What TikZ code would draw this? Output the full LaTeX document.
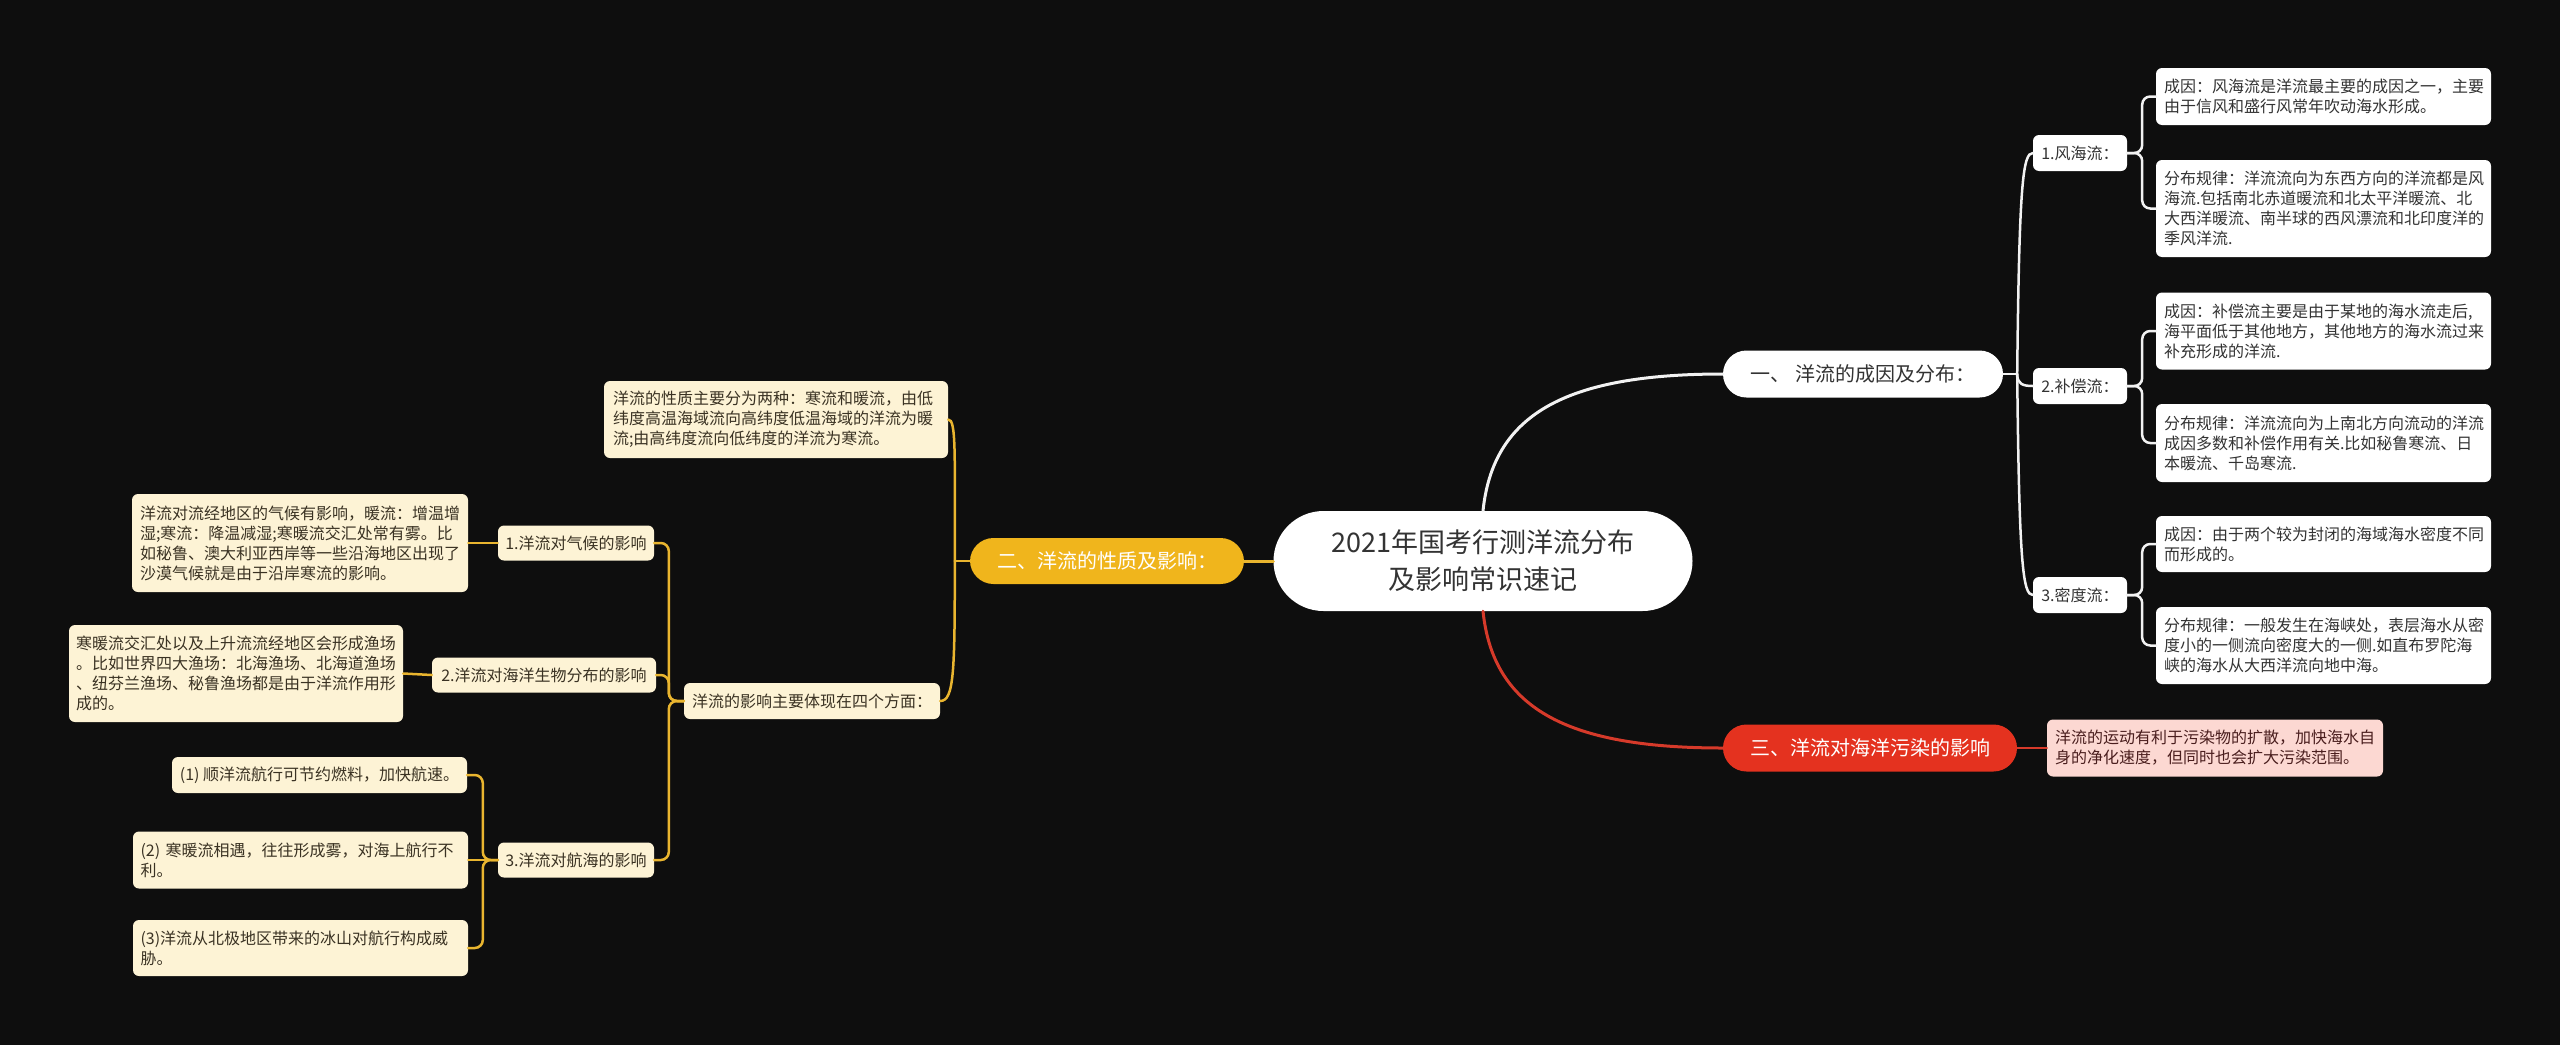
\documentclass[tikz,border=0pt]{standalone}
\usepackage{fontspec}
\newfontfamily\cjk{Noto Sans CJK SC}
\definecolor{bgc}{HTML}{0E0E0E}
\definecolor{cream}{HTML}{FDF3D5}
\definecolor{ctext}{HTML}{3A3223}
\definecolor{yfill}{HTML}{F0B51C}
\definecolor{yline}{HTML}{E9B52F}
\definecolor{wtext}{HTML}{333333}
\definecolor{redfill}{HTML}{E4321F}
\definecolor{rline}{HTML}{D63A2A}
\definecolor{pinkfill}{HTML}{FCD8D2}
\definecolor{ptext}{HTML}{4A1E1E}
\definecolor{wline}{HTML}{F2F2F2}
\begin{document}
\begin{tikzpicture}[x=1pt,y=-1pt,
  base/.style={inner sep=0pt, font=\cjk\fontsize{16}{20}\selectfont},
  wbox/.style={base, fill=white, text=wtext, rounded corners=6pt},
  cbox/.style={base, fill=cream, text=ctext, rounded corners=6pt},
  leafR/.style={wbox, minimum width=335pt, text width=319pt, align=left},
  subR/.style={wbox, minimum width=94pt, minimum height=36pt},
  pill/.style={base, font=\cjk\fontsize{20}{24}\selectfont, minimum height=47pt, rounded corners=23.5pt},
  wl/.style={draw=wline, line width=3pt, line cap=round},
  wl2/.style={draw=wline, line width=2.5pt, line cap=round},
  yl/.style={draw=yline, line width=2.5pt, line cap=round},
  rl/.style={draw=rline, line width=3pt, line cap=round}]
\useasboundingbox (0,0) rectangle (2560,1045);
\fill[bgc] (0,0) rectangle (2560,1045);

% central
\node[wbox, rounded corners=50pt, minimum width=419pt, minimum height=100pt,
  font=\cjk\fontsize{27}{37}\selectfont, align=center, text=wtext] (center) at (1483,561)
  {2021年国考行测洋流分布\\及影响常识速记};

% branches
\node[pill, fill=white, text=wtext, minimum width=280pt] (br1) at (1863,374) {一、 洋流的成因及分布：};
\node[pill, fill=redfill, text=white, minimum width=294pt] (br3) at (1870,748) {三、洋流对海洋污染的影响};
\node[pill, fill=yfill, text=white, minimum width=274pt, minimum height=46pt] (br2) at (1107,561) {二、洋流的性质及影响：};

% right side
\node[subR] (s1) at (2080,153) {1.风海流：};
\node[subR] (s2) at (2080,386) {2.补偿流：};
\node[subR] (s3) at (2080,595) {3.密度流：};

\node[leafR, minimum height=57pt] (l1a) at (2323.5,96.5) {成因：风海流是洋流最主要的成因之一，主要\\由于信风和盛行风常年吹动海水形成。};
\node[leafR, minimum height=97pt] (l1b) at (2323.5,208.5) {分布规律：洋流流向为东西方向的洋流都是风\\海流.包括南北赤道暖流和北太平洋暖流、北\\大西洋暖流、南半球的西风漂流和北印度洋的\\季风洋流.};
\node[leafR, minimum height=77pt] (l2a) at (2323.5,331) {成因：补偿流主要是由于某地的海水流走后,\\海平面低于其他地方，其他地方的海水流过来\\补充形成的洋流.};
\node[leafR, minimum height=78pt] (l2b) at (2323.5,443) {分布规律：洋流流向为上南北方向流动的洋流\\成因多数和补偿作用有关.比如秘鲁寒流、日\\本暖流、千岛寒流.};
\node[leafR, minimum height=56pt] (l3a) at (2323.5,544) {成因：由于两个较为封闭的海域海水密度不同\\而形成的。};
\node[leafR, minimum height=77pt] (l3b) at (2323.5,645.5) {分布规律：一般发生在海峡处，表层海水从密\\度小的一侧流向密度大的一侧.如直布罗陀海\\峡的海水从大西洋流向地中海。};

\node[base, fill=pinkfill, text=ptext, rounded corners=6pt, minimum width=336pt, minimum height=57pt, text width=320pt, align=left] (pk) at (2215,748) {洋流的运动有利于污染物的扩散，加快海水自\\身的净化速度，但同时也会扩大污染范围。};

% left side
\node[cbox, minimum width=344pt, minimum height=77pt, text width=326pt, align=left] (A) at (776,419.5) {洋流的性质主要分为两种：寒流和暖流，由低\\纬度高温海域流向高纬度低温海域的洋流为暖\\流;由高纬度流向低纬度的洋流为寒流。};
\node[cbox, minimum width=256pt, minimum height=36pt] (B) at (812,701) {洋流的影响主要体现在四个方面：};

\node[cbox, minimum width=156pt, minimum height=35pt] (C1) at (576,543) {1.洋流对气候的影响};
\node[cbox, minimum width=224pt, minimum height=35pt] (C2) at (544,675) {2.洋流对海洋生物分布的影响};
\node[cbox, minimum width=156pt, minimum height=35pt] (C3) at (576,860) {3.洋流对航海的影响};

\node[cbox, minimum width=336pt, minimum height=98pt, text width=320pt, align=left] (C1L) at (300,543) {洋流对流经地区的气候有影响，暖流：增温增\\湿;寒流：降温减湿;寒暖流交汇处常有雾。比\\如秘鲁、澳大利亚西岸等一些沿海地区出现了\\沙漠气候就是由于沿岸寒流的影响。};
\node[cbox, minimum width=334pt, minimum height=97pt, text width=320pt, align=left] (C2L) at (236,673.5) {寒暖流交汇处以及上升流流经地区会形成渔场\\。比如世界四大渔场：北海渔场、北海道渔场\\、纽芬兰渔场、秘鲁渔场都是由于洋流作用形\\成的。};

\node[cbox, minimum width=295pt, minimum height=36pt] (D1) at (319.5,775) {(1) 顺洋流航行可节约燃料，加快航速。};
\node[cbox, minimum width=335pt, minimum height=57pt, text width=320pt, align=left] (D2) at (300.5,860) {(2) 寒暖流相遇，往往形成雾，对海上航行不\\利。};
\node[cbox, minimum width=335pt, minimum height=56pt, text width=320pt, align=left] (D3) at (300.5,948) {(3)洋流从北极地区带来的冰山对航行构成威\\胁。};

% connectors: center
\draw[wl] (center.north) .. controls +(10,-95) and +(-160,0) .. (br1.west);
\draw[rl] (center.south) .. controls +(10,95) and +(-160,0) .. (br3.west);
\draw[yl, line width=3pt] (center.west) -- (br2.east);

% right white
\draw[wl2] (br1.east) -- ++(14,0) coordinate (j1);
\draw[wl2] (j1) .. controls +(2,-190) and +(-10,0) .. (s1.west);
\draw[wl2] (j1) .. controls +(0,10) and +(-10,0) .. (s2.west);
\draw[wl2] (j1) .. controls +(2,190) and +(-10,0) .. (s3.west);
\draw[wl2, rounded corners=8pt] (s1.east) -- ++(15,0) |- (l1a.west);
\draw[wl2, rounded corners=8pt] (s1.east) -- ++(15,0) |- (l1b.west);
\draw[wl2, rounded corners=8pt] (s2.east) -- ++(15,0) |- (l2a.west);
\draw[wl2, rounded corners=8pt] (s2.east) -- ++(15,0) |- (l2b.west);
\draw[wl2, rounded corners=8pt] (s3.east) -- ++(15,0) |- (l3a.west);
\draw[wl2, rounded corners=8pt] (s3.east) -- ++(15,0) |- (l3b.west);

% red
\draw[rl, line width=2.5pt] (br3.east) -- (pk.west);

% left yellow
\draw[yl] (br2.west) -- ++(-15,0) coordinate (j2);
\draw[yl] (j2) .. controls +(0,-110) and +(8,0) .. (A.east);
\draw[yl] (j2) .. controls +(0,110) and +(14,0) .. (B.east);
\draw[yl, rounded corners=8pt] (B.west) -- ++(-15,0) |- (C1.east);
\draw[yl, rounded corners=8pt] (B.west) -- ++(-15,0) |- (C2.east);
\draw[yl, rounded corners=8pt] (B.west) -- ++(-15,0) |- (C3.east);
\draw[yl] (C1.west) -- (C1L.east);
\draw[yl] (C2.west) -- (C2L.east);
\draw[yl, rounded corners=8pt] (C3.west) -- ++(-15,0) |- (D1.east);
\draw[yl] (C3.west) -- (D2.east);
\draw[yl, rounded corners=8pt] (C3.west) -- ++(-15,0) |- (D3.east);
\end{tikzpicture}
\end{document}
